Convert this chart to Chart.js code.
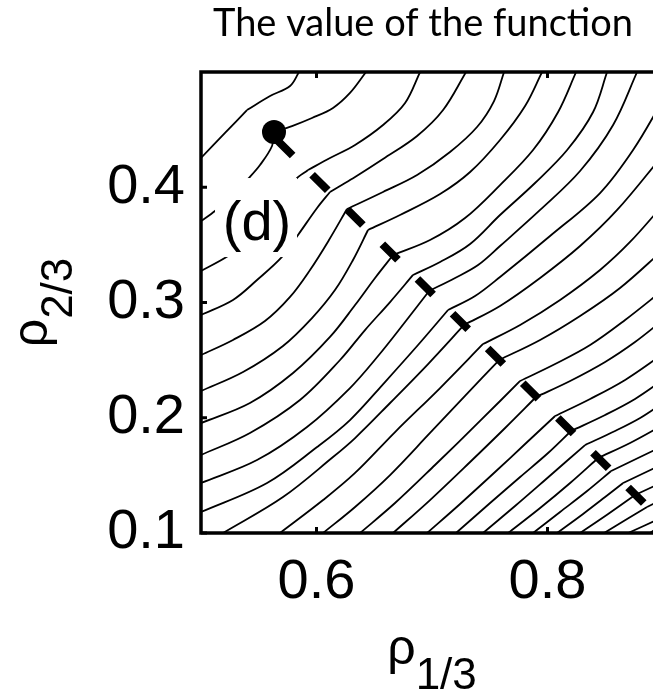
<!DOCTYPE html>
<html>
<head>
<meta charset="utf-8">
<script src="https://cdn.jsdelivr.net/npm/chart.js@4"></script>
<style>
  html, body { margin: 0; padding: 0; background: #fff; overflow: hidden; }
  #wrap { width: 846px; height: 691px; }
</style>
</head>
<body>
<div id="wrap"><canvas id="contourChart" width="846" height="691"></canvas></div>
<script>
// axis ticks
const xTicks = [0.6, 0.8];
const yTicks = [0.1, 0.2, 0.3, 0.4];

// start of the path (the dot) and the dashed ridge path
const startPoint = [0.5632, 0.4479];
const ridgePath = [[0.5658, 0.4410], [0.9, 0.1095]];

// panel label, anchored at its baseline centre
const panelLabel = '(d)';
const panelLabelAt = [0.5485, 0.3542];

// contour lines, one array per level, as [rho13, rho23] pairs
const c01 = [[0.500,0.4254],[0.5208,0.4471],[0.5398,0.4670],[0.5598,0.4792],[0.5771,0.4879],[0.5849,0.5000]];
const c02 = [[0.500,0.3707],[0.5121,0.3794],[0.5268,0.3924],[0.5407,0.4072],[0.5511,0.4193],[0.5615,0.4358],[0.5632,0.4479],[0.5788,0.4531],[0.5961,0.4601],[0.6143,0.4688],[0.6290,0.4818],[0.6429,0.5000]];
const c03 = [[0.500,0.3273],[0.5234,0.3403],[0.5468,0.3577],[0.5667,0.3820],[0.5814,0.4063],[0.5927,0.4150],[0.6117,0.4254],[0.6334,0.4367],[0.6576,0.4540],[0.6767,0.4731],[0.6897,0.5000]];
const c04 = [[0.500,0.2892],[0.5277,0.3022],[0.5485,0.3195],[0.5701,0.3395],[0.5840,0.3586],[0.6005,0.3820],[0.6117,0.3959],[0.6204,0.4011],[0.6334,0.4089],[0.6576,0.4245],[0.6871,0.4445],[0.7096,0.4670],[0.7295,0.5000]];
const c05 = [[0.500,0.2544],[0.5277,0.2675],[0.5554,0.2839],[0.5771,0.3048],[0.5944,0.3282],[0.6108,0.3542],[0.6264,0.3811],[0.6576,0.3959],[0.6871,0.4106],[0.7156,0.4306],[0.7390,0.4523],[0.7537,0.4748],[0.7624,0.5000]];
const c06 = [[0.500,0.2232],[0.5364,0.2397],[0.5710,0.2623],[0.5961,0.2865],[0.6160,0.3108],[0.6316,0.3369],[0.6446,0.3629],[0.6723,0.3759],[0.7070,0.3941],[0.7330,0.4132],[0.7589,0.4410],[0.7806,0.4705],[0.7953,0.5000]];
const c07 = [[0.500,0.1954],[0.5424,0.2128],[0.5797,0.2388],[0.6117,0.2701],[0.6334,0.2978],[0.6507,0.3213],[0.6663,0.3412],[0.6983,0.3542],[0.7286,0.3733],[0.7589,0.4019],[0.7875,0.4323],[0.8092,0.4653],[0.8248,0.5000]];
const c08 = [[0.500,0.1677],[0.5424,0.1868],[0.5857,0.2154],[0.6204,0.2501],[0.6420,0.2761],[0.6637,0.3004],[0.6836,0.3239],[0.7070,0.3351],[0.7330,0.3508],[0.7589,0.3759],[0.7892,0.4037],[0.8170,0.4323],[0.8395,0.4653],[0.8516,0.5000]];
const c09 = [[0.500,0.1434],[0.5485,0.1633],[0.5918,0.1920],[0.6290,0.2258],[0.6533,0.2536],[0.6767,0.2831],[0.6975,0.3100],[0.7200,0.3213],[0.7399,0.3325],[0.7589,0.3490],[0.7936,0.3803],[0.8282,0.4141],[0.8568,0.4540],[0.8776,0.5000]];
const c10 = [[0.500,0.1182],[0.5572,0.1434],[0.6005,0.1746],[0.6290,0.1980],[0.6593,0.2310],[0.6879,0.2631],[0.7139,0.2935],[0.7373,0.3056],[0.7589,0.3221],[0.8022,0.3577],[0.8455,0.3950],[0.8741,0.4323],[0.9000,0.4757]];
const c11 = [[0.5191,0.1000],[0.5710,0.1312],[0.6143,0.1659],[0.6334,0.1824],[0.6637,0.2128],[0.6966,0.2466],[0.7278,0.2805],[0.7589,0.2970],[0.7936,0.3213],[0.8282,0.3490],[0.8603,0.3803],[0.9000,0.4280]];
const c12 = [[0.5684,0.1000],[0.6057,0.1286],[0.6334,0.1521],[0.6680,0.1876],[0.7070,0.2258],[0.7442,0.2640],[0.7763,0.2805],[0.8109,0.3022],[0.8455,0.3282],[0.8715,0.3525],[0.9000,0.3846]];
const c13 = [[0.6057,0.1000],[0.6334,0.1226],[0.6637,0.1503],[0.6983,0.1868],[0.7286,0.2189],[0.7581,0.2501],[0.7936,0.2675],[0.8282,0.2883],[0.8628,0.3126],[0.9000,0.3455]];
const c14 = [[0.6377,0.1000],[0.6680,0.1260],[0.7026,0.1590],[0.7416,0.1972],[0.7763,0.2319],[0.8066,0.2466],[0.8369,0.2631],[0.8672,0.2848],[0.9000,0.3108]];
const c15 = [[0.6663,0.1000],[0.6983,0.1286],[0.7330,0.1616],[0.7633,0.1911],[0.7901,0.2180],[0.8196,0.2319],[0.8499,0.2484],[0.8758,0.2657],[0.9000,0.2848]];
const c16 = [[0.6957,0.1000],[0.7243,0.1252],[0.7546,0.1529],[0.7806,0.1772],[0.8066,0.2015],[0.8369,0.2163],[0.8672,0.2328],[0.9000,0.2553]];
const c17 = [[0.7208,0.1000],[0.7503,0.1260],[0.7763,0.1486],[0.8005,0.1694],[0.8204,0.1885],[0.8499,0.2024],[0.8758,0.2163],[0.9000,0.2328]];
const c18 = [[0.7442,0.1000],[0.7719,0.1234],[0.7979,0.1460],[0.8325,0.1763],[0.8585,0.1885],[0.8802,0.1998],[0.9000,0.2128]];
const c19 = [[0.7659,0.1000],[0.7936,0.1217],[0.8196,0.1434],[0.8438,0.1651],[0.8715,0.1781],[0.9000,0.1937]];
const c20 = [[0.7875,0.1000],[0.8109,0.1182],[0.8343,0.1364],[0.8551,0.1538],[0.8802,0.1659],[0.9000,0.1755]];
const c21 = [[0.8083,0.1000],[0.8308,0.1165],[0.8499,0.1312],[0.8655,0.1434],[0.9000,0.1599]];
const c22 = [[0.8282,0.1000],[0.8525,0.1165],[0.8758,0.1330],[0.9000,0.1442]];
const c23 = [[0.8490,0.1000],[0.8689,0.1122],[0.8862,0.1226],[0.9000,0.1295]];
const c24 = [[0.8698,0.1000],[0.8966,0.1122],[0.9000,0.1139]];
const c25 = [[0.8888,0.1000],[0.9000,0.1078]];

const contourLines = [c01, c02, c03, c04, c05, c06, c07, c08, c09, c10, c11, c12, c13,
  c14, c15, c16, c17, c18, c19, c20, c21, c22, c23, c24, c25];
// index of the point where each contour bends on the ridge (-1: no bend in view)
const bendAt = [2, 6, 5, 6, 6, 6, 6, 6, 6, 6, 6, 5, 5,
  4, 4, 4, 4, 3, 3, 3, 3, 2, 2, 1, -1];

const toXY = pts => pts.map(([x, y]) => ({ x, y }));
const tickFont = { family: 'Liberation Sans', size: 56 };

// frame, inward tick marks, subscripted axis titles and the panel label
const decorations = {
  id: 'decorations',
  afterDatasetsDraw(chart) {
    const { ctx, scales } = chart;
    const cx = scales.x.getPixelForValue(panelLabelAt[0]);
    const cy = scales.y.getPixelForValue(panelLabelAt[1]);
    ctx.save();
    ctx.fillStyle = '#fff';
    ctx.fillRect(cx - 42, cy - 62, 82, 79);
    ctx.fillStyle = '#000';
    ctx.font = '56px "Liberation Sans"';
    ctx.textAlign = 'center';
    ctx.textBaseline = 'alphabetic';
    ctx.fillText(panelLabel, cx, cy);
    ctx.restore();
  },
  afterDraw(chart) {
    const { ctx, chartArea: a, scales } = chart;
    ctx.save();
    ctx.strokeStyle = '#000';
    ctx.lineWidth = 3.5;
    ctx.strokeRect(a.left, a.top, a.right - a.left, a.bottom - a.top);

    ctx.lineWidth = 3;
    const len = 6;
    ctx.beginPath();
    xTicks.forEach(v => {
      const px = scales.x.getPixelForValue(v);
      ctx.moveTo(px, a.bottom); ctx.lineTo(px, a.bottom - len);
      ctx.moveTo(px, a.top); ctx.lineTo(px, a.top + len);
    });
    yTicks.forEach(v => {
      const py = scales.y.getPixelForValue(v);
      ctx.moveTo(a.left, py); ctx.lineTo(a.left + len, py);
      ctx.moveTo(a.right, py); ctx.lineTo(a.right - len, py);
    });
    ctx.stroke();

    const drawTitle = (sub, x, y) => {
      ctx.font = '50px "Liberation Sans"';
      const wMain = ctx.measureText('\u03c1').width;
      ctx.font = '44px "Liberation Sans"';
      const wSub = ctx.measureText(sub).width;
      const left = x - (wMain + wSub) / 2;
      ctx.fillStyle = '#000';
      ctx.textAlign = 'left';
      ctx.textBaseline = 'alphabetic';
      ctx.font = '50px "Liberation Sans"';
      ctx.fillText('\u03c1', left, y);
      ctx.font = '44px "Liberation Sans"';
      ctx.fillText(sub, left + wMain, y + 25);
    };
    drawTitle('1/3', (a.left + a.right) / 2, 664);

    ctx.translate(47, (a.top + a.bottom) / 2);
    ctx.rotate(-Math.PI / 2);
    drawTitle('2/3', 0, 0);
    ctx.restore();
  }
};

// each contour is drawn as two smooth arms that meet at a sharp bend
const contourStyle = {
  showLine: true,
  borderColor: '#000',
  borderWidth: 1.8,
  pointRadius: 0,
  tension: 0.35
};
const contourSets = [];
contourLines.forEach((line, i) => {
  const k = bendAt[i];
  const arms = k > 0 ? [line.slice(0, k + 1), line.slice(k)] : [line];
  arms.forEach(arm => contourSets.push({ ...contourStyle, data: toXY(arm) }));
});

const datasets = [
  {
    data: toXY([startPoint]),
    pointRadius: 12,
    pointBackgroundColor: '#000',
    pointBorderWidth: 0,
    showLine: false
  },
  {
    data: toXY(ridgePath),
    showLine: true,
    borderColor: '#000',
    borderWidth: 8,
    borderDash: [22, 27.4],
    borderCapStyle: 'butt',
    pointRadius: 0
  },
  ...contourSets
];

new Chart(document.getElementById('contourChart'), {
  type: 'scatter',
  data: { datasets },
  options: {
    responsive: false,
    animation: false,
    devicePixelRatio: 1,
    events: [],
    layout: { padding: 0 },
    plugins: {
      legend: { display: false },
      tooltip: { enabled: false },
      title: {
        display: true,
        text: 'The value of the function',
        color: '#000',
        font: { family: 'Lato', size: 38, weight: 'normal', lineHeight: 1 },
        padding: { top: 5, bottom: 29 }
      }
    },
    scales: {
      x: {
        type: 'linear',
        min: 0.5,
        max: 0.9,
        afterBuildTicks: s => { s.ticks = xTicks.map(v => ({ value: v })); },
        afterFit: s => { s.height = 158; },
        grid: { display: false, drawTicks: false },
        border: { display: false },
        ticks: {
          font: tickFont, color: '#000', padding: 16,
          maxRotation: 0, autoSkip: false,
          callback: v => v.toFixed(1)
        }
      },
      y: {
        type: 'linear',
        min: 0.1,
        max: 0.5,
        afterBuildTicks: s => { s.ticks = yTicks.map(v => ({ value: v })); },
        afterFit: s => { s.width = 201; },
        grid: { display: false, drawTicks: false },
        border: { display: false },
        ticks: {
          font: tickFont, color: '#000', padding: 16,
          autoSkip: false,
          callback: v => v.toFixed(1)
        }
      },
      // empty right-hand axis, only reserves the space past the frame
      yRight: {
        type: 'linear',
        position: 'right',
        min: 0.1,
        max: 0.5,
        afterFit: s => { s.width = 183; },
        grid: { display: false, drawTicks: false },
        border: { display: false },
        ticks: { display: false }
      }
    }
  },
  plugins: [decorations]
});
</script>
</body>
</html>
